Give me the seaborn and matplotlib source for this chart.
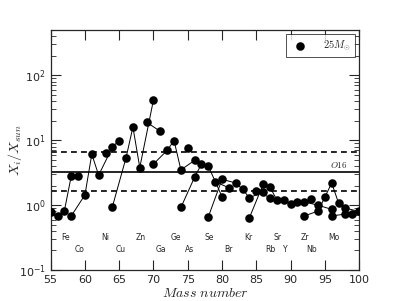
import numpy as np
import pandas as pd
import matplotlib
matplotlib.use('Agg')
import matplotlib.pyplot as plt
import seaborn as sns

# isotopes: mass number, production factor X_i/X_sun, element (points of one element are joined)
mass = [55, 56, 57, 58, 59,
        58, 60, 61, 62, 64,
        63, 65,
        64, 66, 67, 68, 70,
        69, 71,
        70, 72, 73, 74, 76,
        75,
        74, 76, 77, 78, 80,
        79, 81,
        78, 80, 82, 83, 84, 86,
        85, 87,
        84, 86, 87, 88,
        89,
        90, 91, 92, 94, 96,
        93,
        92, 94, 95, 96, 97, 98, 100,
        96, 98, 99]
xfac = [0.79, 0.68, 0.82, 2.8, 2.8,
        0.68, 1.44, 6.1, 2.9, 7.8,
        6.3, 9.9,
        0.94, 5.4, 16.0, 3.8, 42.0,
        19.0, 13.7,
        4.3, 7.0, 9.9, 3.5, 4.9,
        7.7,
        0.92, 2.7, 4.3, 4.0, 1.35,
        2.3, 1.85,
        0.66, 2.5, 2.2, 1.75, 1.3, 1.6,
        1.65, 1.3,
        0.64, 2.1, 1.9, 1.2,
        1.2,
        1.06, 1.1, 1.12, 1.0, 0.86,
        1.23,
        0.68, 0.81, 1.32, 2.2, 1.08, 0.9, 0.8,
        0.68, 0.73, 0.73]
elem = (['Mn'] + ['Fe'] * 3 + ['Co'] + ['Ni'] * 5 + ['Cu'] * 2 + ['Zn'] * 5 + ['Ga'] * 2
        + ['Ge'] * 5 + ['As'] + ['Se'] * 5 + ['Br'] * 2 + ['Kr'] * 6 + ['Rb'] * 2
        + ['Sr'] * 4 + ['Y'] + ['Zr'] * 5 + ['Nb'] + ['Mo'] * 7 + ['Ru'] * 3)

# element name labels (two rows) and their positions
top_names = ['Fe', 'Ni', 'Zn', 'Ge', 'Se', 'Kr', 'Sr', 'Zr', 'Mo']
top_pos = [57.1, 62.9, 68.2, 73.2, 78.1, 83.8, 88.1, 92.1, 96.3]
bot_names = ['Co', 'Cu', 'Ga', 'As', 'Br', 'Rb', 'Y', 'Nb']
bot_pos = [59.2, 65.2, 71.1, 75.2, 81.0, 87.0, 89.3, 93.0]

o16 = 3.3

df = pd.DataFrame({'A': mass, 'X': xfac, 'elem': elem})

sns.set_style('ticks')
plt.rcParams['mathtext.fontset'] = 'cm'
plt.rcParams['font.family'] = ['DejaVu Sans']

fig = plt.figure(figsize=(3.99, 3.01), dpi=100)
ax = fig.add_axes([0.127, 0.103, 0.773, 0.797])

sns.lineplot(data=df, x='A', y='X', units='elem', estimator=None, color='k',
             linewidth=0.7, ax=ax, legend=False)
sns.scatterplot(data=df, x='A', y='X', color='k', s=38, edgecolor='k',
                linewidth=0, ax=ax, label=r'$25M_{\odot}$', zorder=3)

ax.axhline(o16, color='k', lw=1.2)
ax.axhline(o16 * 2, color='k', lw=1.2, ls=(0, (3.5, 2.5)))
ax.axhline(o16 / 2, color='k', lw=1.2, ls=(0, (3.5, 2.5)))
ax.text(97.0, o16 * 1.06, r'$O16$', fontsize=6.5, ha='center', va='bottom')

for n, p in zip(top_names, top_pos):
    ax.text(p, 0.32, n, fontsize=5.5, ha='center', va='center')
for n, p in zip(bot_names, bot_pos):
    ax.text(p, 0.21, n, fontsize=5.5, ha='center', va='center')

ax.set_yscale('log')
ax.set_xlim(55, 100)
ax.set_ylim(0.1, 500)
ax.set_xticks(np.arange(55, 101, 5))
ax.tick_params(which='both', direction='in', top=True, right=True, labelsize=8)
ax.tick_params(which='major', length=7, width=0.8)
ax.tick_params(which='minor', length=3.5, width=0.6)
ax.tick_params(axis='x', which='minor', bottom=False, top=False)
for sp in ax.spines.values():
    sp.set_linewidth(0.9)

ax.set_xlabel(r'$Mass\ number$', fontsize=10, labelpad=1)
ax.set_ylabel(r'$X_i/X_{sun}$', fontsize=10)
ax.yaxis.set_label_coords(-0.085, 0.5)

leg = ax.legend(loc='upper right', fontsize=7.5, frameon=True, fancybox=False,
                edgecolor='k', borderaxespad=0.4, handletextpad=1.2, markerscale=1.0)
leg.get_frame().set_linewidth(0.6)

fig.savefig('out.png', dpi=100)
